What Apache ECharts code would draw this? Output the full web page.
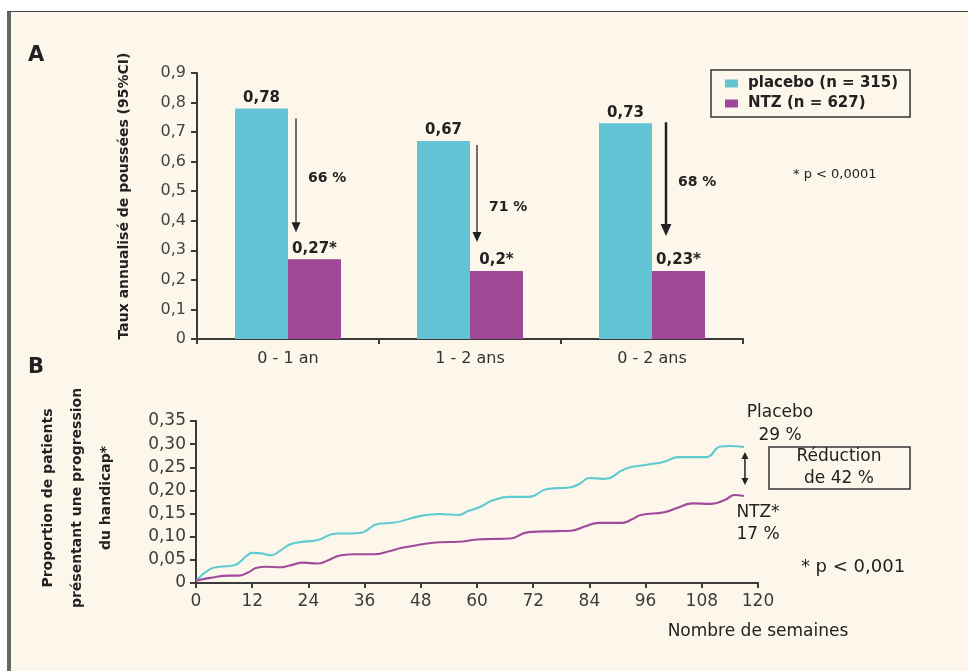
<!DOCTYPE html>
<html><head><meta charset="utf-8">
<script src="https://cdn.jsdelivr.net/npm/echarts@6/dist/echarts.min.js"></script>
<style>
html,body{margin:0;padding:0;background:#fff;}
#frame{position:absolute;left:7px;top:11px;width:961px;height:660px;background:#fdf6ea;border-left:4px solid #666;border-top:1.5px solid #444;box-sizing:border-box;}
#chart{position:absolute;left:0;top:0;width:968px;height:671px;}
</style></head><body><div id="frame"></div><div id="chart"></div>
<script>
// ---- Panel A data ----
const categories = ['0 - 1 an', '1 - 2 ans', '0 - 2 ans'];
const placeboRates = [0.78, 0.67, 0.73];
const ntzRates = [0.27, 0.23, 0.23];
const placeboRateLabels = ['0,78', '0,67', '0,73'];
const ntzRateLabels = ['0,27*', '0,2*', '0,23*'];
const reductionLabels = ['66 %', '71 %', '68 %'];
const rateTickLabels = ['0', '0,1', '0,2', '0,3', '0,4', '0,5', '0,6', '0,7', '0,8', '0,9'];
// ---- Panel B data ----
const placeboWeeks = [0, 3, 5, 8, 11, 12, 14, 16, 18, 20, 22, 26, 30, 33, 35, 39, 42, 48, 52, 56, 58, 61, 63, 67, 71, 75, 80, 82, 84, 87, 92, 96, 100, 103, 106, 109, 112, 114, 117];
const placeboValues = [0.005, 0.03, 0.035, 0.038, 0.06, 0.065, 0.064, 0.06, 0.07, 0.083, 0.088, 0.093, 0.107, 0.107, 0.108, 0.128, 0.13, 0.145, 0.149, 0.147, 0.155, 0.166, 0.177, 0.186, 0.186, 0.203, 0.207, 0.215, 0.227, 0.225, 0.248, 0.255, 0.262, 0.272, 0.272, 0.272, 0.295, 0.296, 0.294];
const ntzWeeks = [0, 3, 7, 9, 11, 13, 15, 18, 20, 23, 26, 28, 31, 34, 38, 41, 44, 48, 52, 56, 60, 63, 67, 71, 77, 80, 83, 86, 91, 93, 95, 100, 103, 106, 110, 113, 115, 117];
const ntzValues = [0.005, 0.011, 0.016, 0.016, 0.022, 0.033, 0.035, 0.034, 0.038, 0.044, 0.042, 0.048, 0.06, 0.062, 0.062, 0.068, 0.076, 0.083, 0.088, 0.089, 0.094, 0.095, 0.096, 0.11, 0.112, 0.113, 0.122, 0.13, 0.13, 0.137, 0.147, 0.153, 0.163, 0.172, 0.171, 0.18, 0.19, 0.188];
const progTickLabels = ['0', '0,05', '0,10', '0,15', '0,20', '0,25', '0,30', '0,35'];

const FONT = 'DejaVu Sans';
const CYAN = '#63c4d6', PURPLE = '#9d4996';
const LCYAN = '#5ecbd2', LPURPLE = '#a04b9b';
const AX = '#3a3a3a';

const chart = echarts.init(document.getElementById('chart'), null, {renderer: 'canvas'});
const option = {
  animation: false,
  backgroundColor: 'transparent',
  textStyle: {fontFamily: FONT},
  legend: {
    data: ['placebo (n = 315)', 'NTZ (n = 627)'],
    orient: 'vertical', left: 711, top: 70,
    padding: [6, 12, 6, 14], itemGap: 5,
    itemWidth: 13, itemHeight: 8, icon: 'rect',
    borderColor: '#333', borderWidth: 1.5,
    textStyle: {fontFamily: FONT, fontWeight: 'bold', fontSize: 15, color: '#222', padding: [0, 0, 0, 5]}
  },
  grid: [
    {left: 197, top: 73, width: 546, height: 266},
    {left: 196, top: 421, width: 562, height: 162}
  ],
  xAxis: [
    {gridIndex: 0, type: 'category', data: categories,
     axisLine: {lineStyle: {color: AX, width: 2}},
     axisTick: {show: true, length: 5, lineStyle: {color: AX, width: 2}},
     axisLabel: {fontSize: 16, color: '#333', margin: 12, fontFamily: FONT}},
    {gridIndex: 1, type: 'value', min: 0, max: 120, interval: 12,
     axisLine: {show: true, lineStyle: {color: AX, width: 2}},
     axisTick: {show: true, length: 5, lineStyle: {color: AX, width: 2}},
     splitLine: {show: false},
     axisLabel: {fontSize: 17, color: '#3c3c3c', margin: 10, fontFamily: FONT}}
  ],
  yAxis: [
    {gridIndex: 0, type: 'value', min: 0, max: 0.9, interval: 0.1,
     axisLine: {show: true, lineStyle: {color: AX, width: 2}},
     axisTick: {show: true, length: 6, lineStyle: {color: AX, width: 2}},
     splitLine: {show: false},
     axisLabel: {fontSize: 16, color: '#444', margin: 11, fontFamily: FONT,
       formatter: v => rateTickLabels[Math.round(v * 10)]}},
    {gridIndex: 1, type: 'value', min: 0, max: 0.35, interval: 0.05,
     axisLine: {show: true, lineStyle: {color: AX, width: 2}},
     axisTick: {show: true, length: 6, lineStyle: {color: AX, width: 2}},
     splitLine: {show: false},
     axisLabel: {fontSize: 17, color: '#3c3c3c', margin: 10, fontFamily: FONT,
       formatter: v => progTickLabels[Math.round(v * 20)]}}
  ],
  series: [
    {name: 'placebo (n = 315)', type: 'bar', xAxisIndex: 0, yAxisIndex: 0,
     data: placeboRates, barWidth: 53, barGap: '0%', itemStyle: {color: CYAN},
     label: {show: true, position: 'top', distance: 3, fontSize: 15, fontWeight: 'bold', color: '#222', fontFamily: FONT,
       formatter: p => placeboRateLabels[p.dataIndex]}},
    {name: 'NTZ (n = 627)', type: 'bar', xAxisIndex: 0, yAxisIndex: 0,
     data: ntzRates, barWidth: 53, barGap: '0%', itemStyle: {color: PURPLE},
     label: {show: true, position: 'top', distance: 3, fontSize: 15, fontWeight: 'bold', color: '#222', fontFamily: FONT,
       formatter: p => ntzRateLabels[p.dataIndex]}},
    {name: 'Placebo', type: 'line', xAxisIndex: 1, yAxisIndex: 1,
     data: placeboWeeks.map((w, i) => [w, placeboValues[i]]),
     showSymbol: false, smooth: 0.5, lineStyle: {color: LCYAN, width: 2.1}, itemStyle: {color: LCYAN}},
    {name: 'NTZ*', type: 'line', xAxisIndex: 1, yAxisIndex: 1,
     data: ntzWeeks.map((w, i) => [w, ntzValues[i]]),
     showSymbol: false, smooth: 0.5, lineStyle: {color: LPURPLE, width: 2.1}, itemStyle: {color: LPURPLE}}
  ]
};
chart.setOption(option);

// ---- annotations computed from the axes ----
const g = [];
function txt(x, y, text, font, align, extra) {
  return Object.assign({type: 'text', x: x, y: y, style: {text: text, font: font, fill: '#222', align: align || 'left', verticalAlign: 'middle'}}, extra || {});
}
function arrowDown(x, y1, y2, w, head) {
  g.push({type: 'line', shape: {x1: x, y1: y1, x2: x, y2: y2 - head + 1}, style: {stroke: '#222', lineWidth: w}});
  g.push({type: 'polygon', shape: {points: [[x - head * 0.45, y2 - head], [x + head * 0.45, y2 - head], [x, y2]]}, style: {fill: '#222'}});
}
const arrowOffsets = [8, 7, 14];
const arrowWidths = [1.3, 1.3, 2.5];
const arrowTops = [10, 4, -1];
const arrowGaps = [27, 29, 35];
categories.forEach((c, i) => {
  const pTop = chart.convertToPixel({xAxisIndex: 0, yAxisIndex: 0}, [i, placeboRates[i]]);
  const nTop = chart.convertToPixel({xAxisIndex: 0, yAxisIndex: 0}, [i, ntzRates[i]]);
  const x = pTop[0] + arrowOffsets[i];
  const y1 = pTop[1] + arrowTops[i];
  const y2 = nTop[1] - arrowGaps[i];
  arrowDown(x, y1, y2, arrowWidths[i], arrowWidths[i] > 2 ? 12 : 10);
  const ty = i === 1 ? (y1 + y2) / 2 + 14 : (y1 + y2) / 2 + 3;
  g.push(txt(x + 12, ty, reductionLabels[i], 'bold 14px ' + FONT, 'left'));
});

// Panel A misc
g.push(txt(28, 56, 'A', 'bold 21px ' + FONT, 'left'));
g.push(txt(124, 196, 'Taux annualisé de poussées (95%CI)', 'bold 14px ' + FONT, 'center', {rotation: Math.PI / 2}));
g.push(txt(793, 175, '* p < 0,0001', '13px ' + FONT, 'left'));

// Panel B misc
g.push(txt(28, 368, 'B', 'bold 21px ' + FONT, 'left'));
g.push({type: 'text', x: 77, y: 498, rotation: Math.PI / 2,
  style: {text: 'Proportion de patients\nprésentant une progression\ndu handicap*', font: 'bold 14px ' + FONT, fill: '#222', align: 'center', verticalAlign: 'middle', lineHeight: 29}});
g.push(txt(758, 632, 'Nombre de semaines', '17px ' + FONT, 'center'));

const pEnd = chart.convertToPixel({xAxisIndex: 1, yAxisIndex: 1}, [placeboWeeks[placeboWeeks.length - 1], placeboValues[placeboValues.length - 1]]);
const nEnd = chart.convertToPixel({xAxisIndex: 1, yAxisIndex: 1}, [ntzWeeks[ntzWeeks.length - 1], ntzValues[ntzValues.length - 1]]);
const ax = pEnd[0] + 1, ay1 = pEnd[1] + 5, ay2 = nEnd[1] - 11, hh = 7;
g.push({type: 'line', shape: {x1: ax, y1: ay1 + hh - 1, x2: ax, y2: ay2 - hh + 1}, style: {stroke: '#222', lineWidth: 1.5}});
g.push({type: 'polygon', shape: {points: [[ax - 3.5, ay1 + hh], [ax + 3.5, ay1 + hh], [ax, ay1]]}, style: {fill: '#222'}});
g.push({type: 'polygon', shape: {points: [[ax - 3.5, ay2 - hh], [ax + 3.5, ay2 - hh], [ax, ay2]]}, style: {fill: '#222'}});

g.push(txt(780, 413, 'Placebo', '17px ' + FONT, 'center'));
g.push(txt(780, 436, '29 %', '17px ' + FONT, 'center'));
g.push({type: 'rect', shape: {x: 769, y: 447, width: 141, height: 42}, style: {fill: 'none', stroke: '#333', lineWidth: 1.5}});
g.push(txt(839, 457, 'Réduction', '17px ' + FONT, 'center'));
g.push(txt(839, 479, 'de 42 %', '17px ' + FONT, 'center'));
g.push(txt(758, 513, 'NTZ*', '17px ' + FONT, 'center'));
g.push(txt(758, 535, '17 %', '17px ' + FONT, 'center'));
g.push(txt(853, 567, '* p < 0,001', '18px ' + FONT, 'center'));

chart.setOption({graphic: g});
</script></body></html>
